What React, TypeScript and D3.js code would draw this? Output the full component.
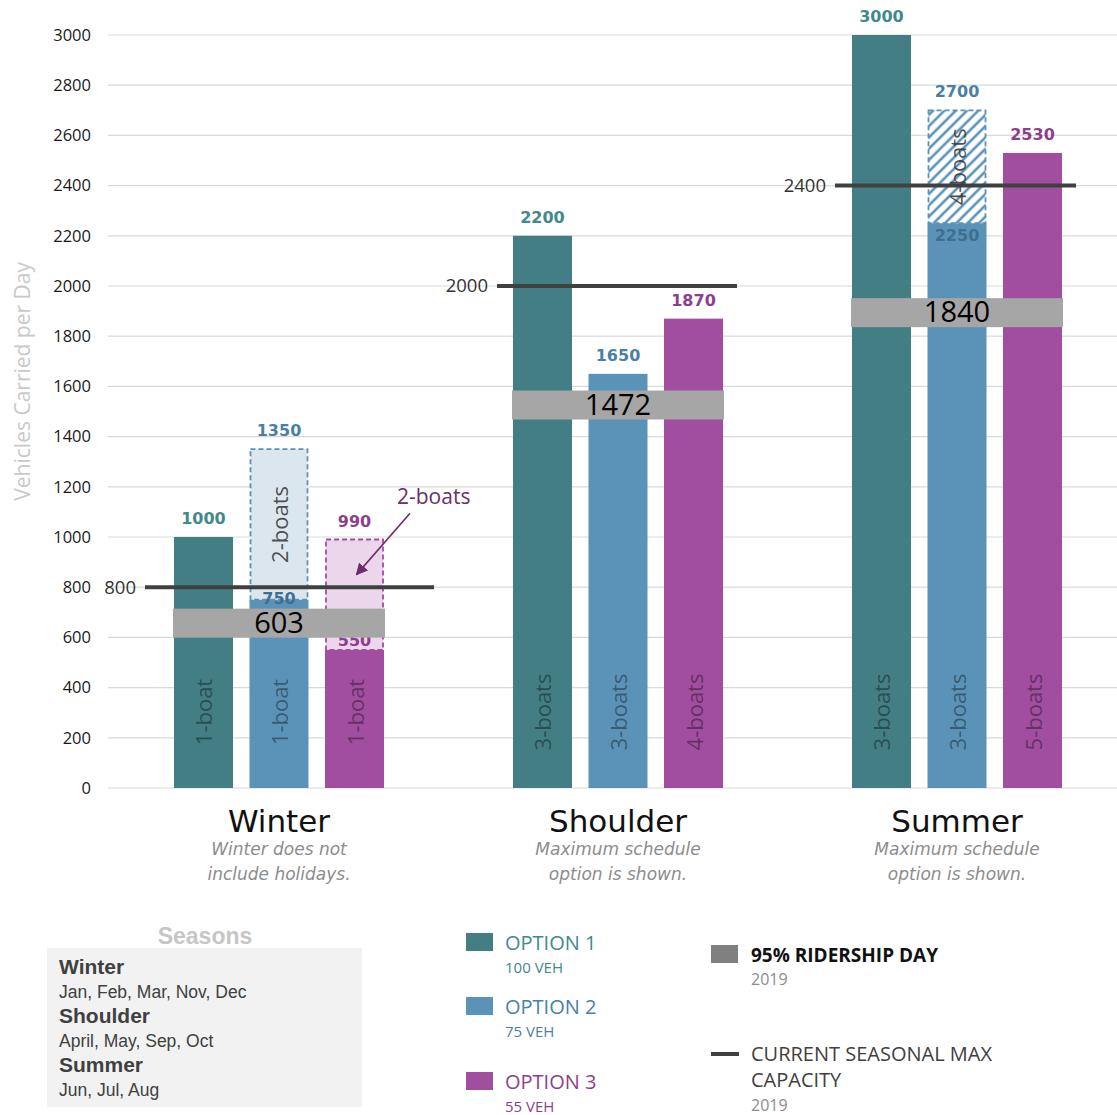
import React from 'react';
import * as d3 from 'd3';

// ---- data ----
const seasons = ['Winter', 'Shoulder', 'Summer'];
const options = ['Option 1', 'Option 2', 'Option 3'];

// solid bar values per season, per option
const baseValues: number[][] = [
  [1000, 750, 550],
  [2200, 1650, 1870],
  [3000, 2250, 2530],
];
// extended capacity (extra boat) stacked above the solid bar
const extendedValues: (number | null)[][] = [
  [null, 1350, 990],
  [null, null, null],
  [null, 2700, null],
];
const baseBoatLabels: string[][] = [
  ['1-boat', '1-boat', '1-boat'],
  ['3-boats', '3-boats', '4-boats'],
  ['3-boats', '3-boats', '5-boats'],
];
const extendedBoatLabels: (string | null)[][] = [
  [null, '2-boats', null],
  [null, null, null],
  [null, '4-boats', null],
];
const ridership95 = [603, 1472, 1840];
const currentCapacity = [800, 2000, 2400];
const seasonNotes = [
  ['Winter does not', 'include holidays.'],
  ['Maximum schedule', 'option is shown.'],
  ['Maximum schedule', 'option is shown.'],
];
const yTicks = [0, 200, 400, 600, 800, 1000, 1200, 1400, 1600, 1800, 2000, 2200, 2400, 2600, 2800, 3000];
const optionNames = ['OPTION 1', 'OPTION 2', 'OPTION 3'];
const optionFleet = ['100 VEH', '75 VEH', '55 VEH'];
const seasonMonths = ['Jan, Feb, Mar, Nov, Dec', 'April, May, Sep, Oct', 'Jun, Jul, Aug'];

// ---- styling ----
const barColors = ['#437e84', '#5b93b8', '#a24ea0'];
const labelColors = ['#42898c', '#4a80a6', '#8c3f8b'];
const tintColors = ['#d7e6e8', '#dbe6ef', '#ecd6eb'];
const SANS = "'Open Sans', sans-serif";
const LABEL = "'DejaVu Sans', sans-serif";
const ARIAL = "'Liberation Sans', Arial, sans-serif";

const W = 1117;
const H = 1115;

export default function App() {
  const y = d3.scaleLinear().domain([0, 3000]).range([788, 35]);
  const x0 = d3.scaleBand<string>().domain(seasons).range([109.5, 1126.5]);
  const x1 = d3
    .scaleBand<string>()
    .domain(options)
    .range([0, x0.bandwidth()])
    .paddingInner(0.2185)
    .paddingOuter(0.854);
  const bw = x1.bandwidth();

  // how far the capacity line reaches past the outer bars of each group
  const capacityReach = [
    [29, 50],
    [16, 14],
    [17, 14],
  ];

  const barX = (si: number, oi: number) => (x0(seasons[si]) as number) + (x1(options[oi]) as number);

  // winter arrow annotation
  const wBar3 = barX(0, 2);

  return (
    <svg
      width={W}
      height={H}
      style={{ position: 'absolute', left: 0, top: 0, background: '#fff' }}
    >
      <defs>
        <pattern
          id="hatch-opt2"
          width="8"
          height="8"
          patternUnits="userSpaceOnUse"
          patternTransform="rotate(45)"
        >
          <rect width="8" height="8" fill="#ffffff" />
          <line x1="2" y1="0" x2="2" y2="8" stroke={barColors[1]} strokeWidth="2.6" />
        </pattern>
        <marker
          id="arrow-head"
          viewBox="0 0 10 10"
          refX="9"
          refY="5"
          markerWidth="12"
          markerHeight="12"
          markerUnits="userSpaceOnUse"
          orient="auto"
        >
          <path d="M0,0 L10,5 L0,10 z" fill="#6b2f6b" />
        </marker>
      </defs>

      {/* gridlines and y tick labels */}
      {yTicks.map((t) => (
        <g key={t}>
          <line x1={108} x2={W} y1={y(t)} y2={y(t)} stroke="#d9d9d9" strokeWidth={1.2} />
          <text
            x={91}
            y={y(t)}
            dy="0.35em"
            textAnchor="end"
            fontFamily={SANS}
            fontSize={16.5}
            fill="#1a1a1a"
          >
            {t}
          </text>
        </g>
      ))}

      {/* y axis title */}
      <text
        transform={`translate(22, ${y(1620)}) rotate(-90)`}
        textAnchor="middle"
        dominantBaseline="central"
        fontFamily={SANS}
        fontSize={21}
        fill="#c9c9c9"
      >
        Vehicles Carried per Day
      </text>

      {/* bars */}
      {seasons.map((s, si) => (
        <g key={s}>
          {options.map((o, oi) => {
            const bx = barX(si, oi);
            const base = baseValues[si][oi];
            const ext = extendedValues[si][oi];
            const hatched = si === 2;
            return (
              <g key={o}>
                {ext !== null && (
                  <rect
                    x={bx + 1}
                    y={y(ext)}
                    width={bw - 2}
                    height={y(base) - y(ext)}
                    fill={hatched ? 'url(#hatch-opt2)' : tintColors[oi]}
                    stroke={barColors[oi]}
                    strokeWidth={1.8}
                    strokeDasharray="5 3"
                  />
                )}
                <rect x={bx} y={y(base)} width={bw} height={y(0) - y(base)} fill={barColors[oi]} />
                <text
                  transform={`translate(${bx + bw / 2}, ${y(0) - 76}) rotate(-90)`}
                  textAnchor="middle"
                  dominantBaseline="central"
                  fontFamily={SANS}
                  fontSize={22}
                  fill="#000"
                  fillOpacity={0.4}
                >
                  {baseBoatLabels[si][oi]}
                </text>
                {ext !== null && extendedBoatLabels[si][oi] && (
                  <text
                    transform={`translate(${bx + bw / 2}, ${(y(ext) + y(base)) / 2}) rotate(-90)`}
                    textAnchor="middle"
                    dominantBaseline="central"
                    fontFamily={SANS}
                    fontSize={22}
                    fill="#333"
                    fillOpacity={0.85}
                  >
                    {extendedBoatLabels[si][oi]}
                  </text>
                )}
                {/* value label above the top of the column */}
                <text
                  x={bx + bw / 2}
                  y={y(ext !== null ? ext : base) - 13}
                  textAnchor="middle"
                  fontFamily={LABEL}
                  fontWeight="bold"
                  fontSize={16}
                  fill={labelColors[oi]}
                >
                  {ext !== null ? ext : base}
                </text>
                {/* value label for the solid part under an extension */}
                {ext !== null && (
                  <text
                    x={bx + bw / 2}
                    y={y(base) + (hatched ? 18 : oi === 1 ? 4 : -4)}
                    textAnchor="middle"
                    fontFamily={LABEL}
                    fontWeight="bold"
                    fontSize={16}
                    fill={oi === 1 ? '#3e6f92' : labelColors[oi]}
                  >
                    {base}
                  </text>
                )}
              </g>
            );
          })}
        </g>
      ))}

      {/* current seasonal max capacity lines */}
      {seasons.map((s, si) => {
        const left = barX(si, 0) - capacityReach[si][0];
        const right = barX(si, 2) + bw + capacityReach[si][1];
        const cy = y(currentCapacity[si]);
        return (
          <g key={s}>
            <line x1={left} x2={right} y1={cy} y2={cy} stroke="#404040" strokeWidth={4} />
            <text
              x={left - 9}
              y={cy}
              dy="0.35em"
              textAnchor="end"
              fontFamily={SANS}
              fontSize={18.5}
              fill="#333"
            >
              {currentCapacity[si]}
            </text>
          </g>
        );
      })}

      {/* 95% ridership day boxes */}
      {seasons.map((s, si) => {
        const left = barX(si, 0) - 1;
        const right = barX(si, 2) + bw + 1;
        const by = y(ridership95[si]);
        return (
          <g key={s}>
            <rect x={left} y={by - 28} width={right - left} height={29} fill="#a6a6a6" />
            <text
              x={(left + right) / 2}
              y={by - 4}
              textAnchor="middle"
              fontFamily={SANS}
              fontSize={29}
              fill="#000"
            >
              {ridership95[si]}
            </text>
          </g>
        );
      })}

      {/* winter option 3 annotation */}
      <text x={wBar3 + bw + 13} y={y(1130)} fontFamily={SANS} fontSize={21} fill="#6b2f6b">
        2-boats
      </text>
      <line
        x1={wBar3 + bw + 26}
        y1={y(1095)}
        x2={wBar3 + bw / 2 + 2}
        y2={y(850)}
        stroke="#6b2f6b"
        strokeWidth={1.6}
        markerEnd="url(#arrow-head)"
      />

      {/* season titles and notes */}
      {seasons.map((s, si) => {
        const cx = (x0(s) as number) + x0.bandwidth() / 2;
        return (
          <g key={s}>
            <text x={cx} y={832} textAnchor="middle" fontFamily={LABEL} fontSize={31} fill="#111">
              {s}
            </text>
            {seasonNotes[si].map((line, li) => (
              <text
                key={li}
                x={cx}
                y={855 + li * 25}
                textAnchor="middle"
                fontFamily={LABEL}
                fontStyle="italic"
                fontSize={17}
                fill="#8c8c8c"
              >
                {line}
              </text>
            ))}
          </g>
        );
      })}

      {/* seasons key */}
      <text x={205} y={944} textAnchor="middle" fontFamily={ARIAL} fontWeight="bold" fontSize={23} fill="#c6c6c6">
        Seasons
      </text>
      <rect x={47} y={948} width={315} height={159} fill="#f2f2f2" />
      {seasons.map((s, si) => (
        <g key={s}>
          <text x={59} y={974 + si * 49} fontFamily={ARIAL} fontWeight="bold" fontSize={21} fill="#404040">
            {s}
          </text>
          <text x={59} y={998 + si * 49} fontFamily={ARIAL} fontSize={17.5} fill="#404040">
            {seasonMonths[si]}
          </text>
        </g>
      ))}

      {/* option key */}
      {optionNames.map((name, oi) => {
        const top = [933, 997, 1072][oi];
        return (
          <g key={name}>
            <rect x={466} y={top} width={27} height={18} fill={barColors[oi]} />
            <text x={505} y={top + 17} fontFamily={SANS} fontSize={20} fill={labelColors[oi]}>
              {name}
            </text>
            <text x={505} y={top + 40} fontFamily={SANS} fontSize={15} fill={labelColors[oi]}>
              {optionFleet[oi]}
            </text>
          </g>
        );
      })}

      {/* reference key */}
      <rect x={711} y={945} width={27} height={18} fill="#808080" />
      <text x={751} y={962} fontFamily={SANS} fontWeight="bold" fontSize={19} fill="#111">
        95% RIDERSHIP DAY
      </text>
      <text x={751} y={985} fontFamily={SANS} fontSize={16} fill="#8c8c8c">
        2019
      </text>
      <line x1={711} x2={739} y1={1054} y2={1054} stroke="#404040" strokeWidth={4} />
      <text x={751} y={1061} fontFamily={SANS} fontSize={20} fill="#404040">
        CURRENT SEASONAL MAX
      </text>
      <text x={751} y={1087} fontFamily={SANS} fontSize={20} fill="#404040">
        CAPACITY
      </text>
      <text x={751} y={1111} fontFamily={SANS} fontSize={16} fill="#8c8c8c">
        2019
      </text>
    </svg>
  );
}
